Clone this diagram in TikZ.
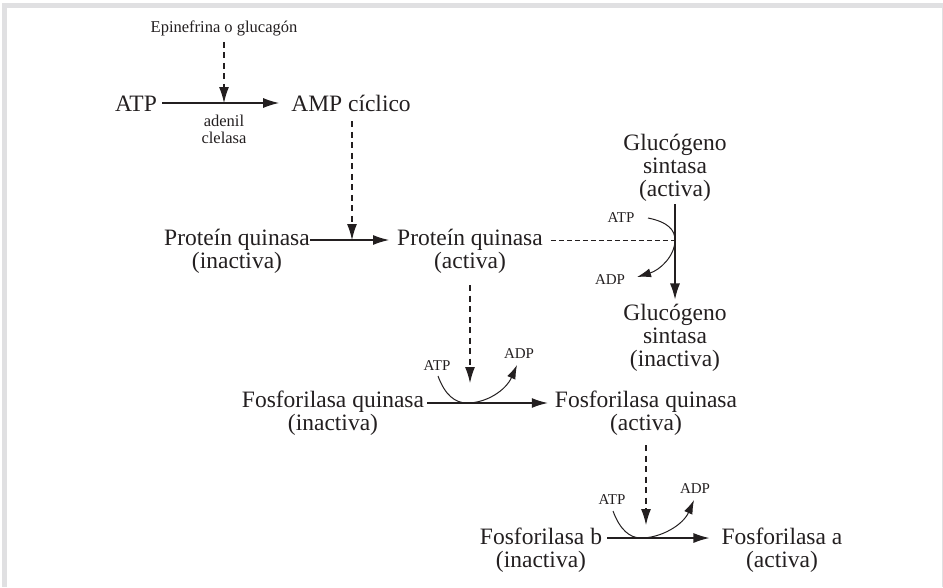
\documentclass[tikz,border=0pt]{standalone}
\usepackage{fontspec}
\setmainfont{Liberation Serif}
\usetikzlibrary{arrows.meta}
\definecolor{tinta}{RGB}{35,31,32}
\definecolor{marco}{RGB}{224,224,226}
\tikzset{
  enzima/.style={font=\fontsize{23.5}{23}\selectfont,align=center,
                 inner sep=0pt,text=tinta,anchor=base},
  etiq/.style={font=\fontsize{15}{17}\selectfont,align=center,
               inner sep=0pt,text=tinta},
  flecha/.style={draw=tinta,line width=1.2pt,-{Latex[length=16pt,width=10pt]}},
  senal/.style={flecha,dash pattern=on 6pt off 4.5pt},
  enlace/.style={draw=tinta,line width=1pt,dash pattern=on 5pt off 3pt},
  giro/.style={draw=tinta,line width=1pt,-{Latex[length=14pt,width=9pt]}}
}

\begin{document}
\begin{tikzpicture}[x=1pt,y=-1pt]
  \useasboundingbox (0,0) rectangle (943,587);
  % marco gris
  \fill[marco] (2,3) rectangle (943,8);
  \fill[marco] (2,3) rectangle (7,587);
  \draw[marco,line width=1pt] (942,8) -- (942,587);

  % AMP ciclico
  \node[etiq,font=\fontsize{16.5}{17}\selectfont] (epi) at (224,28) {Epinefrina o glucagón};
  \node[enzima] (atp) at (136,111) {ATP};
  \node[enzima] (amp) at (351,111) {AMP cíclico};
  \node[etiq,font=\fontsize{16.5}{17}\selectfont,anchor=base] (adc) at (224,143) {adenil\\clelasa};
  \coordinate (cA) at (224,103);
  \draw[flecha] ([xshift=5pt]atp.east |- cA) -- ([xshift=-12pt]amp.west |- cA);
  \draw[senal,shorten <=6pt] (epi.south) -- (cA);

  % protein quinasa
  \node[enzima] (pqi) at (237,268) {Proteín quinasa\\(inactiva)};
  \node[enzima] (pqa) at (470,268) {Proteín quinasa\\(activa)};
  \coordinate (cB) at (352,240);
  \draw[flecha,shorten >=8pt] (pqi.north east |- cB) -- (pqa.north west |- cB);
  \draw[senal,shorten <=10pt] (amp.south -| cB) -- (cB);

  % glucogeno sintasa
  \node[enzima] (gsa) at (675,196) {Glucógeno\\sintasa\\(activa)};
  \node[enzima] (gsi) at (675,366) {Glucógeno\\sintasa\\(inactiva)};
  \coordinate (cC) at (675,240);
  \draw[flecha,shorten <=3pt,shorten >=4pt] (gsa.south) -- (gsi.north);
  \draw[enlace,shorten <=8pt] (pqa.north east |- cC) -- (cC);
  \node[etiq] (atpG) at (621,218) {ATP};
  \node[etiq] (adpG) at (610,280) {ADP};
  \coordinate (gIn) at (648,218);
  \coordinate (gOut) at (637,277);
  \draw[giro] (gIn) .. controls (668,222) and (675,230) .. (cC)
              .. controls (675,256) and (660,270) .. (gOut);

  % fosforilasa quinasa
  \node[enzima] (fqi) at (333,430) {Fosforilasa quinasa\\(inactiva)};
  \node[enzima] (fqa) at (646,430) {Fosforilasa quinasa\\(activa)};
  \coordinate (cD) at (470,383);
  \coordinate (fD) at (470,403);
  \draw[flecha,shorten <=3pt,shorten >=7pt] (fqi.north east |- fD) -- (fqa.north west |- fD);
  \draw[senal,shorten <=12pt] (pqa.south) -- (cD);
  \node[etiq] (atpF) at (437,366) {ATP};
  \node[etiq] (adpF) at (519,354) {ADP};
  \coordinate (fIn) at (438,376);
  \coordinate (fOut) at (517,365);
  \draw[giro] (fIn) .. controls (445,395) and (455,403) .. (467,403)
              .. controls (487,403) and (506,390) .. (fOut);

  % fosforilasa
  \node[enzima] (fb) at (541,567) {Fosforilasa b\\(inactiva)};
  \node[enzima] (fa) at (782,567) {Fosforilasa a\\(activa)};
  \coordinate (cE) at (646,525);
  \coordinate (fE) at (646,538);
  \draw[flecha,shorten <=5pt,shorten >=12pt] (fb.north east |- fE) -- (fa.north west |- fE);
  \draw[senal,shorten <=10pt] (fqa.south) -- (cE);
  \node[etiq] (atpP) at (612,500) {ATP};
  \node[etiq] (adpP) at (695,489) {ADP};
  \coordinate (pIn) at (613,511);
  \coordinate (pOut) at (694,500);
  \draw[giro] (pIn) .. controls (620,530) and (630,538) .. (641,538)
              .. controls (661,538) and (683,525) .. (pOut);
\end{tikzpicture}
\end{document}
